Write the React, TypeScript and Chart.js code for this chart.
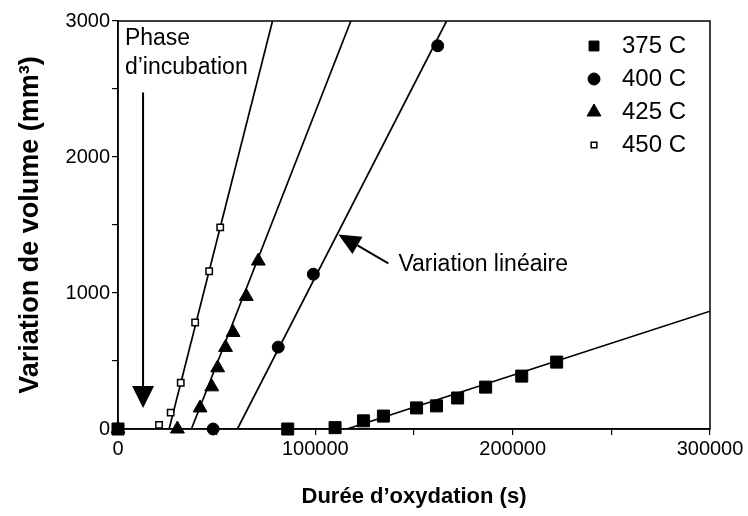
import React, { useEffect, useRef } from 'react';
import { Chart, registerables } from 'chart.js';
import { drawPoint } from 'chart.js/helpers';

Chart.register(...registerables);

// Measured data (time in s, volume variation in mm3)
const s375X = [0, 86000, 110000, 124400, 134500, 151300, 161400, 172100, 186300, 204600, 222300];
const s375Y = [0, 0, 10, 60, 95, 155, 170, 228, 308, 389, 492];
const s400X = [48200, 81200, 99000, 162000];
const s400Y = [0, 602, 1138, 2818];
const s425X = [0, 30100, 41600, 47500, 50500, 54500, 58300, 65000, 71100];
const s425Y = [0, 0, 155, 310, 450, 600, 710, 975, 1235];
const s450X = [20800, 26700, 31800, 39100, 46200, 51800];
const s450Y = [30, 120, 340, 783, 1160, 1483];

// Linear fits (end points)
const fit375X = [116000, 300000];
const fit375Y = [0, 866];
const fit400X = [60500, 166500];
const fit400Y = [0, 3000];
const fit425X = [37200, 118000];
const fit425Y = [0, 3000];
const fit450X = [25900, 78300];
const fit450Y = [0, 3000];

const legendLabels = ['375 C', '400 C', '425 C', '450 C'];
const xTitle = 'Durée d’oxydation (s)';
const yTitle = 'Variation de volume (mm³)';
const annotIncubation = ['Phase', 'd’incubation'];
const annotLinear = 'Variation linéaire';

const FONT = '"Liberation Sans", Arial, Helvetica, sans-serif';

const pts = (xs: number[], ys: number[]) => xs.map((x, i) => ({ x, y: ys[i] }));

const markerStyles = [
  { pointStyle: 'rect', radius: 8.5, fill: '#000', border: 1 },
  { pointStyle: 'circle', radius: 6, fill: '#000', border: 1 },
  { pointStyle: 'triangle', radius: 8, fill: '#000', border: 1 },
  { pointStyle: 'rect', radius: 4.5, fill: '#fff', border: 1.5 },
];

function arrow(ctx: CanvasRenderingContext2D, x1: number, y1: number, x2: number, y2: number, head: number, half: number) {
  const ang = Math.atan2(y2 - y1, x2 - x1);
  const bx = x2 - head * Math.cos(ang);
  const by = y2 - head * Math.sin(ang);
  ctx.beginPath();
  ctx.moveTo(x1, y1);
  ctx.lineTo(bx, by);
  ctx.stroke();
  ctx.beginPath();
  ctx.moveTo(x2, y2);
  ctx.lineTo(bx + half * Math.sin(ang), by - half * Math.cos(ang));
  ctx.lineTo(bx - half * Math.sin(ang), by + half * Math.cos(ang));
  ctx.closePath();
  ctx.fill();
}

const decorPlugin = {
  id: 'decor',
  afterDraw(chart: any) {
    const { ctx, chartArea, scales } = chart;
    const xs = scales.x;
    const ys = scales.y;
    ctx.save();
    // frame
    ctx.strokeStyle = '#000';
    ctx.lineWidth = 1.5;
    ctx.strokeRect(chartArea.left, chartArea.top, chartArea.right - chartArea.left, chartArea.bottom - chartArea.top);

    ctx.fillStyle = '#000';
    ctx.textBaseline = 'middle';
    ctx.textAlign = 'left';
    ctx.font = `23px ${FONT}`;
    // incubation annotation
    ctx.fillText(annotIncubation[0], xs.getPixelForValue(3500), ys.getPixelForValue(2870));
    ctx.fillText(annotIncubation[1], xs.getPixelForValue(3500), ys.getPixelForValue(2657));
    ctx.lineWidth = 2;
    arrow(ctx, xs.getPixelForValue(12700), ys.getPixelForValue(2474), xs.getPixelForValue(12700), ys.getPixelForValue(154), 22, 11);
    // linear annotation
    arrow(ctx, xs.getPixelForValue(137000), ys.getPixelForValue(1218), xs.getPixelForValue(111700), ys.getPixelForValue(1431), 22, 10);
    ctx.fillText(annotLinear, xs.getPixelForValue(142100), ys.getPixelForValue(1205));

    // legend
    ctx.font = `24px ${FONT}`;
    const lx = chartArea.right - 116;
    const tx = chartArea.right - 88;
    legendLabels.forEach((lab, i) => {
      const y = chartArea.top + 25 + i * 33;
      const m = markerStyles[i];
      ctx.fillStyle = m.fill;
      ctx.strokeStyle = '#000';
      ctx.lineWidth = m.border;
      drawPoint(ctx, { pointStyle: m.pointStyle, radius: i === 0 ? 7 : m.radius - (i === 3 ? 0.5 : 0), rotation: 0, borderWidth: m.border }, lx, y);
      ctx.fillStyle = '#000';
      ctx.fillText(lab, tx, y);
    });
    ctx.restore();
  },
};

export default function App() {
  const ref = useRef<HTMLCanvasElement | null>(null);
  useEffect(() => {
    document.body.style.margin = '0';
    const canvas = ref.current;
    if (!canvas) return;
    const lineDs = (xs: number[], ys: number[]) => ({
      data: pts(xs, ys),
      showLine: true,
      borderColor: '#000',
      borderWidth: 1.7,
      pointRadius: 0,
      order: 2,
    });
    const markDs = (xs: number[], ys: number[], i: number) => ({
      label: legendLabels[i],
      data: pts(xs, ys),
      showLine: false,
      clip: false,
      pointStyle: markerStyles[i].pointStyle,
      pointRadius: markerStyles[i].radius,
      pointBackgroundColor: markerStyles[i].fill,
      pointBorderColor: '#000',
      pointBorderWidth: markerStyles[i].border,
      order: 1,
    });
    const chart = new Chart(canvas, {
      type: 'scatter',
      data: {
        datasets: [
          lineDs(fit375X, fit375Y),
          lineDs(fit400X, fit400Y),
          lineDs(fit425X, fit425Y),
          lineDs(fit450X, fit450Y),
          markDs(s375X, s375Y, 0),
          markDs(s400X, s400Y, 1),
          markDs(s425X, s425Y, 2),
          markDs(s450X, s450Y, 3),
        ] as any,
      },
      options: {
        animation: false,
        responsive: false,
        layout: { padding: { top: 21, right: 38, left: 0, bottom: 0 } },
        plugins: { legend: { display: false }, tooltip: { enabled: false } },
        scales: {
          x: {
            type: 'linear',
            min: 0,
            max: 300000,
            afterFit: (s: any) => { s.height = 87; },
            border: { display: true, color: '#000', width: 1.5 },
            grid: { display: true, drawOnChartArea: false, drawTicks: true, tickLength: 6, color: '#000', lineWidth: 1.2 },
            ticks: {
              stepSize: 50000,
              autoSkip: false,
              maxRotation: 0,
              padding: 2,
              color: '#000',
              font: { family: FONT, size: 20 },
              callback: (v: any) => (Number(v) % 100000 === 0 ? String(v) : ''),
            },
            title: {
              display: true,
              text: xTitle,
              color: '#000',
              font: { family: FONT, size: 22, weight: 'bold' },
              padding: { top: 0, bottom: 6 },
            },
          },
          y: {
            type: 'linear',
            min: 0,
            max: 3000,
            afterFit: (s: any) => { s.width = 118; },
            border: { display: true, color: '#000', width: 1.5 },
            grid: { display: true, drawOnChartArea: false, drawTicks: true, tickLength: 6, color: '#000', lineWidth: 1.2 },
            ticks: {
              stepSize: 500,
              autoSkip: false,
              padding: 2,
              color: '#000',
              font: { family: FONT, size: 20 },
              callback: (v: any) => (Number(v) % 1000 === 0 ? String(v) : ''),
            },
            title: {
              display: true,
              text: yTitle,
              color: '#000',
              font: { family: FONT, size: 27, weight: 'bold' },
              padding: { top: 14, bottom: 0 },
            },
          },
        },
      } as any,
      plugins: [decorPlugin],
    });
    return () => chart.destroy();
  }, []);
  return (
    <div style={{ width: 748, height: 516 }}>
      <canvas ref={ref} width={748} height={516} style={{ display: 'block' }} />
    </div>
  );
}
